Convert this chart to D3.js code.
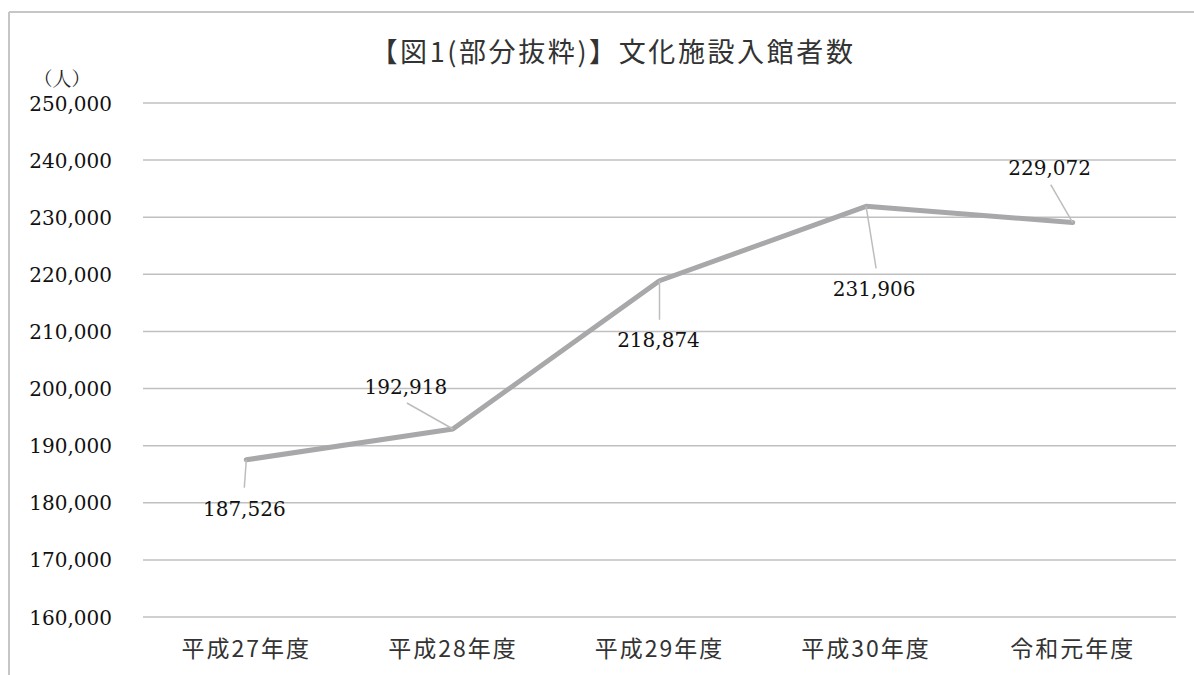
<!DOCTYPE html>
<html><head><meta charset="utf-8">
<script src="https://cdn.jsdelivr.net/npm/d3@7/dist/d3.min.js"></script>
<style>
html,body{margin:0;padding:0;background:#fff;}
svg{display:block;}
</style></head>
<body>
<svg id="chart" width="1194" height="675"></svg>
<script>
const titleText = "【図1(部分抜粋)】文化施設入館者数";
const unitText = "（人）";
const categories = ["平成27年度", "平成28年度", "平成29年度", "平成30年度", "令和元年度"];
const visitors = [187526, 192918, 218874, 231906, 229072];
const yTicks = [160000, 170000, 180000, 190000, 200000, 210000, 220000, 230000, 240000, 250000];
// label offsets (dx, dy) relative to the point, used for the data-label callouts
const labelOffsetX = [-2, -47, -1, 8, -23];
const labelOffsetY = [49, -42, 59, 83, -55];
const leaderEndX = [-2, -46, 0, 10, -22];
const leaderEndY = [28, -26, 39, 62, -38];

(function () {
const svg = d3.select("#chart");
const W = 1194, H = 675;
const pLeft = 143, pRight = 1176, pTop = 103, pBottom = 617;

// outer border (top and left)
svg.append("line").attr("x1", 9).attr("x2", 1194).attr("y1", 12).attr("y2", 12)
  .attr("stroke", "#c6c6c6").attr("stroke-width", 2);
svg.append("line").attr("x1", 9).attr("x2", 9).attr("y1", 12).attr("y2", H)
  .attr("stroke", "#c6c6c6").attr("stroke-width", 2);

const x = d3.scaleBand().domain(categories).range([pLeft, pRight]);
const y = d3.scaleLinear().domain([160000, 250000]).range([pBottom, pTop]);

// gridlines
svg.append("g").selectAll("line").data(yTicks).join("line")
  .attr("x1", pLeft).attr("x2", pRight)
  .attr("y1", d => y(d)).attr("y2", d => y(d))
  .attr("stroke", "#c0c0c0").attr("stroke-width", 1.5);

// y axis
const yAxis = d3.axisLeft(y).tickValues(yTicks).tickFormat(d3.format(",")).tickSize(0).tickPadding(0);
const gy = svg.append("g").attr("transform", `translate(112,0)`).call(yAxis);
gy.select(".domain").remove();
gy.selectAll("text").attr("font-family", "'DejaVu Serif', serif").attr("font-size", 20)
  .attr("fill", "#111").attr("dy", "0.35em");

// x axis
const xAxis = d3.axisBottom(x).tickSize(0).tickPadding(0);
const gx = svg.append("g").attr("transform", `translate(0,${pBottom})`).call(xAxis);
gx.select(".domain").remove();
gx.selectAll("text").attr("font-family", "'Noto Sans CJK JP', sans-serif").attr("font-size", 23)
  .attr("letter-spacing", 2)
  .attr("fill", "#333").attr("dy", "0").attr("y", 40);

// title
svg.append("text").attr("x", 613).attr("y", 50).attr("text-anchor", "middle")
  .attr("dominant-baseline", "central")
  .attr("font-family", "'Noto Sans CJK JP', sans-serif").attr("font-size", 27)
  .attr("letter-spacing", 2.6)
  .attr("fill", "#333").text(titleText);

// unit
svg.append("text").attr("x", 62).attr("y", 77).attr("text-anchor", "middle")
  .attr("dominant-baseline", "central")
  .attr("font-family", "'Noto Serif CJK JP', 'Noto Sans CJK JP', serif").attr("font-size", 19)
  .attr("fill", "#222").text(unitText);

const cx = d => x(d) + x.bandwidth() / 2;

// line
const line = d3.line().x((d, i) => cx(categories[i])).y(d => y(d));
svg.append("path").datum(visitors).attr("d", line)
  .attr("fill", "none").attr("stroke", "#a8a8aa").attr("stroke-width", 5)
  .attr("stroke-linejoin", "round").attr("stroke-linecap", "round");

// leader lines
svg.append("g").selectAll("line").data(visitors).join("line")
  .attr("x1", (d, i) => cx(categories[i])).attr("y1", d => y(d))
  .attr("x2", (d, i) => cx(categories[i]) + leaderEndX[i])
  .attr("y2", (d, i) => y(d) + leaderEndY[i])
  .attr("stroke", "#bdbdbd").attr("stroke-width", 1.5);

// data labels
svg.append("g").selectAll("text").data(visitors).join("text")
  .attr("x", (d, i) => cx(categories[i]) + labelOffsetX[i])
  .attr("y", (d, i) => y(d) + labelOffsetY[i])
  .attr("text-anchor", "middle").attr("dominant-baseline", "central")
  .attr("font-family", "'DejaVu Serif', serif").attr("font-size", 20)
  .attr("fill", "#111").text(d => d3.format(",")(d));
})();
</script>
</body></html>
